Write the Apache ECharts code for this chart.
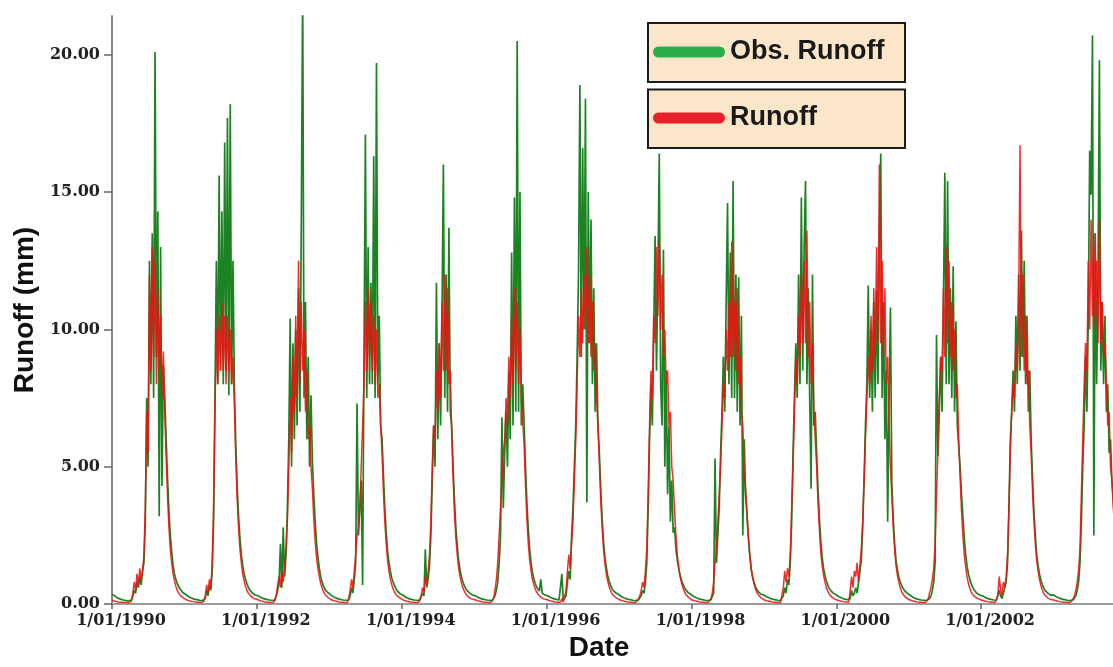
<!DOCTYPE html>
<html><head><meta charset="utf-8">
<script src="https://cdn.jsdelivr.net/npm/echarts@6/dist/echarts.min.js"></script>
<style>html,body{margin:0;padding:0;background:#fff}#c{width:1113px;height:667px}</style>
</head><body><div id="c"></div>
<script>
// Weekly readings (52 per year, week 0 = 1 January), runoff in mm
const years = [1990,1991,1992,1993,1994,1995,1996,1997,1998,1999,2000,2001,2002,2003];

const obs1990 = [0.35,0.3,0.3,0.25,0.22,0.2,0.18,0.16,0.15,0.14,0.13,0.12,0.12,0.12, 0.15,0.3,0.5,0.4,0.8,0.6,1.0,0.7,1.2,1.5, 3.0,7.5,5.0,12.5,8.0,13.5,7.5,20.1,9.0,14.3,3.2,13.0,4.3,8.7, 7.5,6.0,4.6,3.4,2.5,1.9,1.4,1.1,0.9,0.75,0.65,0.55,0.48,0.42];
const sim1990 = [0.15,0.12,0.1,0.1,0.08,0.08,0.07,0.07,0.06,0.06,0.06,0.05,0.05,0.05, 0.1,0.4,0.8,0.5,1.1,0.7,1.3,0.9,1.2,1.8, 3.5,7.0,5.5,12.0,8.5,13.0,9.0,12.5,8.0,11.5,8.5,10.5,7.5,9.2, 7.0,5.4,3.9,2.8,2.0,1.5,1.1,0.85,0.65,0.5,0.4,0.33,0.27,0.23];

const obs1991 = [0.4,0.35,0.3,0.27,0.24,0.22,0.2,0.18,0.17,0.16,0.15,0.14,0.14,0.13, 0.15,0.2,0.5,0.3,0.7,0.5,1.2,3.0, 7.5,12.5,8.0,15.6,8.5,14.3,8.0,16.8,8.5,17.7,7.6,18.2,8.0,12.5, 7.8,5.8,4.3,3.2,2.4,1.8,1.4,1.1,0.9,0.75,0.62,0.52,0.45,0.4,0.36,0.33];
const sim1991 = [0.2,0.17,0.15,0.13,0.11,0.1,0.09,0.08,0.08,0.07,0.07,0.06,0.06,0.06, 0.1,0.3,0.7,0.4,0.9,0.6,1.5,3.5, 7.0,10.0,8.0,10.5,8.5,11.0,8.5,10.5,8.0,10.5,8.5,10.0,8.0,9.0, 7.2,5.3,3.8,2.8,2.0,1.5,1.1,0.85,0.65,0.5,0.4,0.33,0.28,0.24,0.2,0.18];

const obs1992 = [0.35,0.3,0.27,0.24,0.22,0.2,0.18,0.17,0.16,0.15,0.14,0.14,0.13,0.13, 0.2,0.5,0.8,2.2,0.6,2.8,1.0,1.8, 3.5,6.0,10.4,5.0,9.5,6.0,10.0,6.5,11.5,7.0,13.8,22.5,7.5,11.0,6.0,9.0,5.0,7.6, 5.2,4.0,3.0,2.2,1.7,1.3,1.0,0.8,0.65,0.55,0.47,0.4];
const sim1992 = [0.18,0.15,0.13,0.12,0.1,0.09,0.08,0.08,0.07,0.07,0.06,0.06,0.06,0.06, 0.3,0.7,1.0,0.6,1.2,0.8,1.4,2.0, 3.0,5.0,7.5,5.5,9.0,7.0,10.5,7.5,12.5,8.0,11.0,8.5,10.0,7.0,8.5,6.0,6.5,5.0, 4.2,3.1,2.3,1.7,1.3,1.0,0.75,0.58,0.45,0.36,0.3,0.25];

const obs1993 = [0.38,0.33,0.3,0.27,0.24,0.22,0.2,0.18,0.17,0.16,0.15,0.14,0.14,0.13, 0.15,0.3,0.6,0.4,0.9,1.5,7.3,2.5, 3.5,4.5,0.7,9.0,17.1,7.5,13.0,8.0,11.7,8.0,16.3,7.5,19.7,8.0,10.5,6.5, 6.0,4.7,3.5,2.6,1.9,1.5,1.2,0.95,0.8,0.66,0.56,0.48,0.42,0.38];
const sim1993 = [0.2,0.17,0.15,0.13,0.11,0.1,0.09,0.08,0.08,0.07,0.07,0.06,0.06,0.06, 0.2,0.5,0.9,0.6,1.2,1.8,2.5,2.8, 3.5,5.0,6.5,8.0,11.0,8.5,11.5,9.0,11.0,8.5,10.5,8.0,10.0,7.5,8.0,6.5, 5.5,4.1,3.0,2.2,1.6,1.2,0.9,0.7,0.55,0.44,0.35,0.29,0.25,0.22];

const obs1994 = [0.36,0.32,0.28,0.25,0.22,0.2,0.18,0.17,0.16,0.15,0.14,0.14,0.13,0.13, 0.2,0.4,0.3,2.0,0.6,0.9,1.4,2.5, 4.5,6.5,5.0,11.7,6.0,9.5,6.5,10.5,16.0,7.5,12.0,7.0,13.7,7.0, 6.5,5.0,3.8,2.8,2.1,1.6,1.25,1.0,0.82,0.68,0.58,0.5,0.44,0.4,0.36,0.33];
const sim1994 = [0.18,0.15,0.13,0.12,0.1,0.09,0.08,0.08,0.07,0.07,0.06,0.06,0.06,0.06, 0.3,0.6,0.4,1.0,0.7,1.2,1.8,3.0, 5.0,6.5,6.0,8.5,7.0,9.5,7.5,11.0,8.5,12.0,8.5,11.5,8.0,8.5, 6.2,4.6,3.3,2.4,1.8,1.3,1.0,0.78,0.6,0.48,0.38,0.31,0.26,0.22,0.19,0.17];

const obs1995 = [0.35,0.3,0.27,0.24,0.22,0.2,0.18,0.17,0.16,0.15,0.14,0.14,0.13,0.13, 0.15,0.3,0.5,0.8,1.5,2.5,6.8,3.5, 5.5,7.0,5.0,8.5,6.0,12.8,6.5,14.8,7.0,20.5,7.0,15.0,6.5,8.0, 6.5,5.0,3.7,2.7,2.0,1.5,1.15,0.92,0.75,0.62,0.55,0.48,0.9,0.4,0.36,0.33];
const sim1995 = [0.17,0.15,0.13,0.11,0.1,0.09,0.08,0.08,0.07,0.07,0.06,0.06,0.06,0.06, 0.2,0.5,0.9,1.5,2.5,3.5,4.5,5.5, 6.0,7.5,6.5,9.0,7.5,10.5,8.0,11.5,8.5,11.0,8.0,10.0,7.5,7.5, 5.8,4.3,3.1,2.2,1.6,1.2,0.9,0.7,0.55,0.44,0.36,0.3,0.25,0.22,0.19,0.17];

const obs1996 = [0.35,0.3,0.27,0.24,0.22,0.2,0.18,0.17,0.16,0.15,0.14,1.1,0.14,0.13, 0.3,0.8,1.2,0.9,2.5,3.5,5.0,6.5, 9.0,12.0,18.9,9.0,16.6,10.0,18.4,3.7,15.0,9.5,14.0,8.0,11.5,7.0,9.5,6.5, 5.5,4.2,3.1,2.3,1.7,1.35,1.05,0.85,0.7,0.58,0.5,0.44,0.4,0.36];
const sim1996 = [0.17,0.15,0.13,0.11,0.1,0.09,0.08,0.08,0.07,0.07,0.07,0.2,0.07,0.06, 0.5,1.2,1.8,1.3,2.2,3.0,4.5,6.0, 8.0,10.5,9.0,11.5,9.5,12.0,10.0,13.0,9.5,12.0,9.0,11.0,8.5,9.5,7.5,6.5, 5.2,3.8,2.8,2.0,1.5,1.1,0.85,0.65,0.5,0.4,0.32,0.27,0.23,0.2];

const obs1997 = [0.34,0.3,0.27,0.24,0.22,0.2,0.18,0.17,0.16,0.15,0.14,0.14,0.13,0.13, 0.15,0.2,0.3,0.5,0.4,0.8,1.5,3.5, 6.0,8.0,6.5,10.0,13.4,8.5,12.0,16.4,8.0,6.5,12.9,5.0,8.5,4.0,6.5,3.0,4.5,2.6, 2.8,2.0,1.6,1.3,1.05,0.88,0.74,0.62,0.53,0.46,0.41,0.37];
const sim1997 = [0.17,0.15,0.13,0.11,0.1,0.09,0.08,0.08,0.07,0.07,0.06,0.06,0.06,0.06, 0.2,0.3,0.5,0.8,0.6,1.2,2.0,4.0, 6.5,8.5,7.5,10.5,9.5,13.0,10.5,13.2,10.0,12.0,9.0,10.0,8.0,8.5,6.5,7.0,5.0,4.5, 3.4,2.5,1.8,1.35,1.0,0.78,0.6,0.47,0.37,0.3,0.25,0.21];

const obs1998 = [0.34,0.3,0.27,0.24,0.22,0.2,0.18,0.17,0.16,0.15,0.14,0.14,0.13,0.13, 0.15,0.2,0.4,5.3,1.5,2.5,3.5,5.5, 7.0,9.0,7.0,11.0,14.6,8.0,12.8,7.5,15.4,7.5,12.0,7.0,11.9,6.5,10.5,2.5,6.0,4.0, 3.2,2.4,1.8,1.3,1.0,0.8,0.65,0.54,0.46,0.4,0.36,0.33];
const sim1998 = [0.16,0.14,0.12,0.11,0.1,0.09,0.08,0.08,0.07,0.07,0.06,0.06,0.06,0.06, 0.2,0.4,0.8,1.5,2.0,3.0,4.0,5.0, 6.5,8.0,7.5,10.0,8.5,11.0,9.0,13.2,9.0,11.0,8.5,11.5,8.0,9.0,7.0,6.5,5.0,4.2, 3.4,2.5,1.8,1.3,1.0,0.75,0.57,0.44,0.35,0.28,0.23,0.2];

const obs1999 = [0.33,0.3,0.27,0.24,0.22,0.2,0.18,0.17,0.16,0.15,0.14,0.14,0.13,0.13, 0.3,0.6,0.4,0.9,0.7,1.5,3.0,5.5, 7.5,9.5,7.5,12.0,8.0,14.8,8.5,13.0,15.4,8.0,11.5,7.5,4.2,12.0,6.5,7.0, 5.5,4.2,3.1,2.3,1.7,1.3,1.05,0.85,0.7,0.58,0.5,0.44,0.4,0.36];
const sim1999 = [0.16,0.14,0.12,0.11,0.1,0.09,0.08,0.08,0.07,0.07,0.06,0.06,0.06,0.06, 0.6,1.2,0.8,1.3,1.0,1.8,3.5,5.0, 7.0,9.0,8.0,10.5,9.0,12.0,9.5,12.5,9.5,13.6,9.0,11.0,8.0,9.5,7.0,6.0, 5.0,3.7,2.7,1.9,1.4,1.05,0.8,0.6,0.47,0.37,0.3,0.25,0.21,0.18];

const obs2000 = [0.33,0.3,0.27,0.24,0.22,0.2,0.18,0.17,0.16,0.15,0.2,0.5,0.3,0.4, 0.6,0.4,0.8,1.2,1.6,2.8,4.5,6.5, 8.0,11.6,7.5,10.0,7.0,11.0,7.5,11.4,8.0,13.0,16.4,7.5,11.0,6.0,8.5,3.0,7.5,10.8, 4.4,3.1,2.2,1.6,1.25,1.0,0.82,0.68,0.58,0.5,0.44,0.4];
const sim2000 = [0.16,0.14,0.12,0.11,0.1,0.09,0.08,0.08,0.07,0.07,0.5,1.0,0.6,1.2, 1.0,1.5,0.8,1.4,2.0,3.0,4.5,6.0, 7.5,9.0,8.0,10.5,8.5,11.5,9.0,13.0,9.5,16.0,9.5,12.5,9.0,11.5,8.0,9.0,6.5,5.0, 3.9,2.8,2.0,1.4,1.05,0.8,0.6,0.46,0.36,0.29,0.24,0.2];

const obs2001 = [0.36,0.32,0.28,0.25,0.22,0.2,0.18,0.17,0.16,0.15,0.14,0.14,0.13,0.13, 0.15,0.2,0.3,0.5,0.8,1.5,9.8,5.4, 7.0,9.0,7.0,11.0,15.7,8.0,15.4,8.0,11.5,7.5,12.3,7.0,10.3,6.5, 6.5,5.0,4.0,3.2,2.4,1.8,1.4,1.1,0.9,0.75,0.62,0.52,0.45,0.4,0.36,0.33];
const sim2001 = [0.17,0.15,0.13,0.11,0.1,0.09,0.08,0.08,0.07,0.07,0.06,0.06,0.06,0.06, 0.2,0.4,0.6,0.9,1.3,2.2,4.0,5.5, 7.5,9.0,8.5,11.5,9.0,13.0,9.5,12.5,9.0,11.0,8.5,10.0,7.5,8.0, 6.0,4.6,3.4,2.5,1.8,1.35,1.0,0.75,0.57,0.44,0.35,0.29,0.25,0.22,0.2,0.18];

const obs2002 = [0.34,0.3,0.27,0.24,0.22,0.2,0.18,0.17,0.16,0.15,0.14,0.14,0.13,0.5, 0.3,0.2,0.4,0.6,0.8,1.5,3.5,6.0, 7.0,8.5,7.0,10.5,8.0,12.0,8.5,13.6,9.0,12.5,8.0,10.5,7.0,8.5, 6.0,4.6,3.4,2.5,1.8,1.4,1.1,0.88,0.72,0.6,0.5,0.44,0.4,0.36,0.33,0.31];
const sim2002 = [0.15,0.13,0.12,0.1,0.09,0.08,0.08,0.07,0.07,0.06,0.06,0.06,0.3,1.0, 0.5,0.3,0.8,0.6,1.0,1.8,3.5,5.5, 7.0,8.0,7.5,9.5,8.5,11.0,16.7,9.0,12.0,8.5,10.5,8.0,8.5,6.5, 5.5,4.1,3.0,2.2,1.6,1.2,0.9,0.68,0.52,0.4,0.32,0.26,0.22,0.19,0.17,0.15];

const obs2003 = [0.33,0.3,0.27,0.24,0.22,0.2,0.18,0.17,0.16,0.15,0.14,0.14,0.13,0.13, 0.15,0.2,0.3,0.5,0.8,1.5,3.0,5.0, 6.5,9.0,7.0,10.5,16.5,14.9,20.7,2.5,13.5,8.0,12.0,19.8,8.5,11.0,8.0,10.5, 7.0,8.0,5.5,6.0,4.5,3.8,3.0,2.4];
const sim2003 = [0.15,0.13,0.12,0.1,0.09,0.08,0.08,0.07,0.07,0.06,0.06,0.06,0.06,0.06, 0.2,0.3,0.5,0.8,1.2,2.0,4.0,6.0, 8.0,9.5,8.5,12.5,10.0,14.0,10.5,13.5,10.0,12.5,9.5,14.0,9.5,11.0,9.0,9.5, 8.0,6.5,7.0,5.0,4.5,3.5,2.8,2.2];

const obsByYear = [obs1990,obs1991,obs1992,obs1993,obs1994,obs1995,obs1996,obs1997,obs1998,obs1999,obs2000,obs2001,obs2002,obs2003];
const simByYear = [sim1990,sim1991,sim1992,sim1993,sim1994,sim1995,sim1996,sim1997,sim1998,sim1999,sim2000,sim2001,sim2002,sim2003];

const seriesNames = ['Obs. Runoff', 'Runoff'];
const xTickYears = [1990,1992,1994,1996,1998,2000,2002];
const yTicks = [0,5,10,15,20];
const xMin = 1990, xMax = 2003.82, yMin = 0, yMax = 21.41;

function toPairs(arrs) {
  const out = [];
  arrs.forEach((a, i) => a.forEach((v, w) => out.push([years[i] + w / 52.18, v])));
  return out;
}

const serif = 'DejaVu Serif';
const sans = 'Liberation Sans';
const axisGray = '#858585';
const pill = 'path://M5.5,0H66.5A5.5,5.5,0,0,1,66.5,11H5.5A5.5,5.5,0,0,1,5.5,0Z';
const legendText = {fontFamily: sans, fontWeight: 'bold', fontSize: 27, color: '#1a1a1a', lineHeight: 30};

const chart = echarts.init(document.getElementById('c'), null, {renderer: 'canvas'});
chart.setOption({
  animation: false,
  backgroundColor: '#ffffff',
  grid: {left: 112, top: 16, right: 0, bottom: 57},
  xAxis: [{
    type: 'value', min: xMin, max: xMax, position: 'bottom',
    axisLine: {show: true, onZero: false, lineStyle: {color: axisGray, width: 2}},
    axisTick: {show: true, customValues: xTickYears, length: 5, lineStyle: {color: '#666', width: 1.5}},
    axisLabel: {customValues: xTickYears, formatter: v => '1/01/' + v, margin: 9,
      fontFamily: serif, fontWeight: 'bold', fontSize: 16, color: '#222', padding: [0, 0, 0, 18]},
    splitLine: {show: false},
    name: 'Date', nameLocation: 'middle', nameGap: 27,
    nameTextStyle: {fontFamily: sans, fontWeight: 'bold', fontSize: 28, color: '#111', padding: [0, 27, 0, 0]}
  }, {
    type: 'value', min: xMin, max: xMax, position: 'top',
    axisLine: {show: true, lineStyle: {color: '#9c9c9c', width: 2}},
    axisTick: {show: false}, axisLabel: {show: false}, splitLine: {show: false}
  }],
  yAxis: {
    type: 'value', min: yMin, max: yMax,
    axisLine: {show: true, lineStyle: {color: axisGray, width: 2}},
    axisTick: {show: true, customValues: yTicks, length: 8, lineStyle: {color: '#666', width: 1.5}},
    axisLabel: {customValues: yTicks, formatter: v => v.toFixed(2), margin: 12,
      fontFamily: serif, fontWeight: 'bold', fontSize: 16, color: '#222'},
    splitLine: {show: false},
    name: 'Runoff (mm)', nameLocation: 'middle', nameGap: 69, nameRotate: 90,
    nameTextStyle: {fontFamily: sans, fontWeight: 'bold', fontSize: 28, color: '#111'}
  },
  legend: [{
    data: [{name: seriesNames[0], itemStyle: {color: '#2aae4a'}}],
    left: 653, top: 37, padding: 0, z: 10, selectedMode: false, symbolKeepAspect: false,
    icon: pill, itemWidth: 72, itemHeight: 11, textStyle: legendText
  }, {
    data: [{name: seriesNames[1], itemStyle: {color: '#e8202a'}}],
    left: 653, top: 103, padding: 0, z: 10, selectedMode: false, symbolKeepAspect: false,
    icon: pill, itemWidth: 72, itemHeight: 11, textStyle: legendText
  }],
  graphic: [
    {type: 'rect', z: 5, shape: {x: 648, y: 23, width: 257, height: 59}, style: {fill: '#fce6c9', stroke: '#1a1a1a', lineWidth: 2}},
    {type: 'rect', z: 5, shape: {x: 648, y: 89.5, width: 257, height: 58.5}, style: {fill: '#fce6c9', stroke: '#1a1a1a', lineWidth: 2}}
  ],
  series: [{
    name: seriesNames[0], type: 'line', data: toPairs(obsByYear), showSymbol: false, symbol: 'none',
    lineStyle: {color: '#1c8322', width: 1.7}, itemStyle: {color: '#2aae4a'}, z: 2
  }, {
    name: seriesNames[1], type: 'line', data: toPairs(simByYear), showSymbol: false, symbol: 'none',
    lineStyle: {color: '#ee1111', width: 1.5, opacity: 0.88}, itemStyle: {color: '#e8202a'}, z: 3
  }]
});
</script>
</body></html>
